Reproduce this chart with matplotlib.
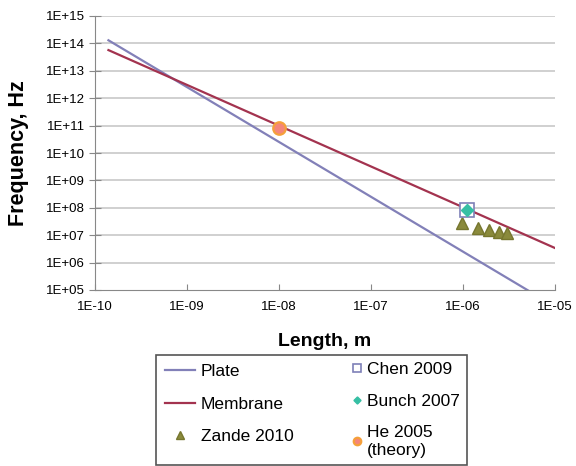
import matplotlib
matplotlib.use("Agg")
import matplotlib.pyplot as plt
from matplotlib.patches import Rectangle
import numpy as np

plt.rcParams['font.family'] = ['Liberation Sans', 'DejaVu Sans']

# model lines (length in m, frequency in Hz)
plate_len = [1.4e-10, 1e-5]
plate_freq = [1.3e14, 2.5e4]
membrane_len = [1.4e-10, 1e-5]
membrane_freq = [5.7e13, 3.4e6]

# experimental / theory points
zande_len = [9.7e-7, 1.47e-6, 1.93e-6, 2.46e-6, 2.98e-6]
zande_freq = [2.7e7, 1.8e7, 1.55e7, 1.35e7, 1.17e7]
chen_len = [1.1e-6]
chen_freq = [8.3e7]
bunch_len = [1.1e-6]
bunch_freq = [8.3e7]
he_len = [1e-8]
he_freq = [8e10]

x_ticks = [1e-10, 1e-9, 1e-8, 1e-7, 1e-6, 1e-5]
x_labels = ['1E-10', '1E-09', '1E-08', '1E-07', '1E-06', '1E-05']
y_ticks = [10.0 ** k for k in range(5, 16)]
y_labels = ['1E+%02d' % k for k in range(5, 16)]

W, H = 576, 466
fig = plt.figure(figsize=(W / 100, H / 100), dpi=100)
ax = fig.add_axes([95 / W, 1 - 290 / H, 460 / W, 274 / H])

ax.set_xscale('log')
ax.set_yscale('log')
ax.set_xlim(1e-10, 1e-5)
ax.set_ylim(1e5, 1e15)

for y in y_ticks[1:]:
    ax.axhline(y, color='#c8c8c8', lw=1.2, zorder=0)

l_plate, = ax.plot(plate_len, plate_freq, color='#8280b8', lw=1.6, label='Plate')
l_mem, = ax.plot(membrane_len, membrane_freq, color='#a3334f', lw=1.6, label='Membrane')
l_zande, = ax.plot(zande_len, zande_freq, ls='none', marker='^', ms=9, color='#8a8a3c',
                   mec='#76762e', label='Zande 2010')
l_chen, = ax.plot(chen_len, chen_freq, ls='none', marker='s', ms=9.5, mfc='white',
                  mec='#7e80b8', mew=1.2, label='Chen 2009')
l_bunch, = ax.plot(bunch_len, bunch_freq, ls='none', marker='D', ms=6, color='#36bfa4',
                   label='Bunch 2007')
l_he, = ax.plot(he_len, he_freq, ls='none', marker='o', ms=9, mfc='#f4857a',
                mec='#f5a03a', mew=1.6, label='He 2005\n(theory)')

ax.xaxis.set_major_locator(matplotlib.ticker.FixedLocator(x_ticks))
ax.xaxis.set_minor_locator(matplotlib.ticker.NullLocator())
ax.set_xticklabels(x_labels)
ax.yaxis.set_major_locator(matplotlib.ticker.FixedLocator(y_ticks))
ax.yaxis.set_minor_locator(matplotlib.ticker.NullLocator())
ax.set_yticklabels(y_labels)

ax.tick_params(axis='x', direction='in', length=4, color='#888888', labelsize=9.5, pad=8)
ax.tick_params(axis='y', direction='inout', length=9, color='#888888', labelsize=9.5, pad=3)

for s in ['top', 'right']:
    ax.spines[s].set_visible(False)
for s in ['left', 'bottom']:
    ax.spines[s].set_color('#888888')

ax.set_xlabel('Length, m', fontsize=14, fontweight='bold', labelpad=14)
ax.set_ylabel('Frequency, Hz', fontsize=15.5, fontweight='bold', labelpad=12)

# legend frame, drawn by hand so the two columns can have different handle sizes
fig.patches.append(Rectangle((156 / W, 1 - 465 / H), 311 / W, 110 / H,
                             transform=fig.transFigure, fill=False,
                             edgecolor='#555555', lw=1.2))

leg1 = fig.legend(handles=[l_plate, l_mem, l_zande], loc='upper left',
                  bbox_to_anchor=(158 / W, 1 - 357 / H), bbox_transform=fig.transFigure,
                  fontsize=12.5, frameon=False, markerscale=0.6,
                  handlelength=1.75, handletextpad=0.3, labelspacing=1.0,
                  borderpad=0.4, borderaxespad=0)
leg2 = fig.legend(handles=[l_chen, l_bunch, l_he], loc='upper left',
                  bbox_to_anchor=(345 / W, 1 - 355 / H), bbox_transform=fig.transFigure,
                  fontsize=12.5, frameon=False, markerscale=0.6,
                  handlelength=0.6, handletextpad=0.25, labelspacing=0.95,
                  borderpad=0.4, borderaxespad=0)

fig.savefig('out.png', dpi=100)
